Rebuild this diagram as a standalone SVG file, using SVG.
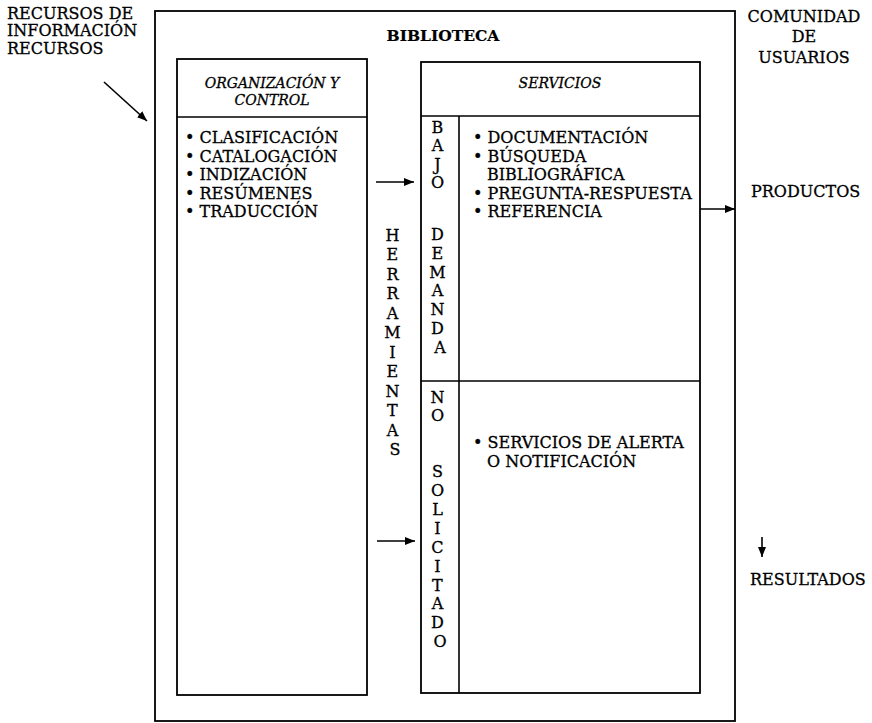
<svg xmlns="http://www.w3.org/2000/svg" width="872" height="723" viewBox="0 0 872 723">
  <style>
    .t { font-family: "DejaVu Serif", "Liberation Serif", serif; font-size: 16px; fill: #000; stroke: #000; stroke-width: 0.3; }
    .b { font-weight: bold; font-size: 15.5px; stroke-width: 0.2; }
    .i { font-style: italic; font-size: 14px; }
    .box { fill: none; stroke: #000; stroke-width: 1.8; }
    .ln { fill: none; stroke: #000; stroke-width: 1.6; }
    .mid { text-anchor: middle; }
  </style>
  <defs>
    <marker id="ah" viewBox="0 0 10 10" refX="10" refY="5" markerWidth="10" markerHeight="10" markerUnits="userSpaceOnUse" orient="auto">
      <path d="M0,1 L10,5 L0,9 Z" fill="#000"/>
    </marker>
  </defs>
  <rect width="872" height="723" fill="#fff"/>

  <!-- outer frame: the library -->
  <g id="biblioteca">
    <rect class="box" x="155" y="11" width="580" height="710" stroke-width="1.5"/>
    <text class="t b mid" x="443" y="41">BIBLIOTECA</text>
  </g>

  <!-- external labels -->
  <g id="recursos">
    <text class="t" x="7" y="18.5">RECURSOS DE</text>
    <text class="t" x="7" y="36">INFORMACIÓN</text>
    <text class="t" x="7" y="53.5">RECURSOS</text>
  </g>
  <g id="comunidad">
    <text class="t mid" x="804" y="22">COMUNIDAD</text>
    <text class="t mid" x="804" y="42">DE</text>
    <text class="t mid" x="804" y="63">USUARIOS</text>
  </g>
  <g id="productos">
    <text class="t" x="751" y="197">PRODUCTOS</text>
  </g>
  <g id="resultados">
    <text class="t" x="750" y="585">RESULTADOS</text>
  </g>

  <!-- organisation and control -->
  <g id="organizacion">
    <rect class="box" x="177" y="59" width="190" height="636"/>
    <line class="ln" x1="177" y1="117" x2="367" y2="117"/>
    <text class="t i mid" x="272" y="88">ORGANIZACIÓN Y</text>
    <text class="t i mid" x="272" y="105">CONTROL</text>
    <text class="t" x="185" y="143">• CLASIFICACIÓN</text>
    <text class="t" x="185" y="161.5">• CATALOGACIÓN</text>
    <text class="t" x="185" y="180">• INDIZACIÓN</text>
    <text class="t" x="185" y="198.5">• RESÚMENES</text>
    <text class="t" x="185" y="217">• TRADUCCIÓN</text>
  </g>

  <!-- tools column -->
  <g id="herramientas">
    <text class="t mid">
      <tspan x="395" y="240.5">H</tspan>
      <tspan x="395" y="260">E</tspan>
      <tspan x="395" y="279.5">R</tspan>
      <tspan x="395" y="299">R</tspan>
      <tspan x="395" y="318.5">A</tspan>
      <tspan x="395" y="338">M</tspan>
      <tspan x="395" y="357.5">I</tspan>
      <tspan x="395" y="377">E</tspan>
      <tspan x="395" y="396.5">N</tspan>
      <tspan x="395" y="416">T</tspan>
      <tspan x="395" y="435.5">A</tspan>
      <tspan x="395" y="455">S</tspan>
    </text>
  </g>

  <!-- services -->
  <g id="servicios">
    <rect class="box" x="421" y="62" width="279" height="631"/>
    <line class="ln" x1="421" y1="116" x2="700" y2="116"/>
    <line class="ln" x1="459" y1="116" x2="459" y2="693"/>
    <line class="ln" x1="421" y1="381" x2="700" y2="381"/>
    <text class="t i mid" x="560" y="88">SERVICIOS</text>
  </g>

  <g id="bajo-demanda">
    <text class="t mid">
      <tspan x="440" y="133">B</tspan>
      <tspan x="440" y="151.3">A</tspan>
      <tspan x="440" y="169.6">J</tspan>
      <tspan x="440" y="187.9">O</tspan>
      <tspan x="440" y="240">D</tspan>
      <tspan x="440" y="258.8">E</tspan>
      <tspan x="440" y="277.6">M</tspan>
      <tspan x="440" y="296.4">A</tspan>
      <tspan x="440" y="315.2">N</tspan>
      <tspan x="440" y="334">D</tspan>
      <tspan x="440" y="352.8">A</tspan>
    </text>
    <text class="t" x="473" y="143">• DOCUMENTACIÓN</text>
    <text class="t" x="473" y="161.5">• BÚSQUEDA</text>
    <text class="t" x="487" y="180">BIBLIOGRÁFICA</text>
    <text class="t" x="473" y="198.5">• PREGUNTA-RESPUESTA</text>
    <text class="t" x="473" y="217">• REFERENCIA</text>
  </g>

  <g id="no-solicitado">
    <text class="t mid">
      <tspan x="440" y="402.5">N</tspan>
      <tspan x="440" y="421">O</tspan>
      <tspan x="440" y="477">S</tspan>
      <tspan x="440" y="496">O</tspan>
      <tspan x="440" y="514.5">L</tspan>
      <tspan x="440" y="533.5">I</tspan>
      <tspan x="440" y="552.5">C</tspan>
      <tspan x="440" y="571.5">I</tspan>
      <tspan x="440" y="590.5">T</tspan>
      <tspan x="440" y="609">A</tspan>
      <tspan x="440" y="628">D</tspan>
      <tspan x="440" y="647">O</tspan>
    </text>
    <text class="t" x="473" y="448">• SERVICIOS DE ALERTA</text>
    <text class="t" x="487" y="466.5">O NOTIFICACIÓN</text>
  </g>

  <!-- connectors -->
  <g id="connectors" class="ln">
    <line x1="104" y1="82" x2="147" y2="121" marker-end="url(#ah)"/>
    <line x1="376" y1="182" x2="414" y2="182" marker-end="url(#ah)"/>
    <line x1="377" y1="541" x2="415" y2="541" marker-end="url(#ah)"/>
    <line x1="700" y1="209" x2="735" y2="209" marker-end="url(#ah)"/>
    <line x1="762" y1="537" x2="762" y2="557" marker-end="url(#ah)"/>
  </g>
</svg>
